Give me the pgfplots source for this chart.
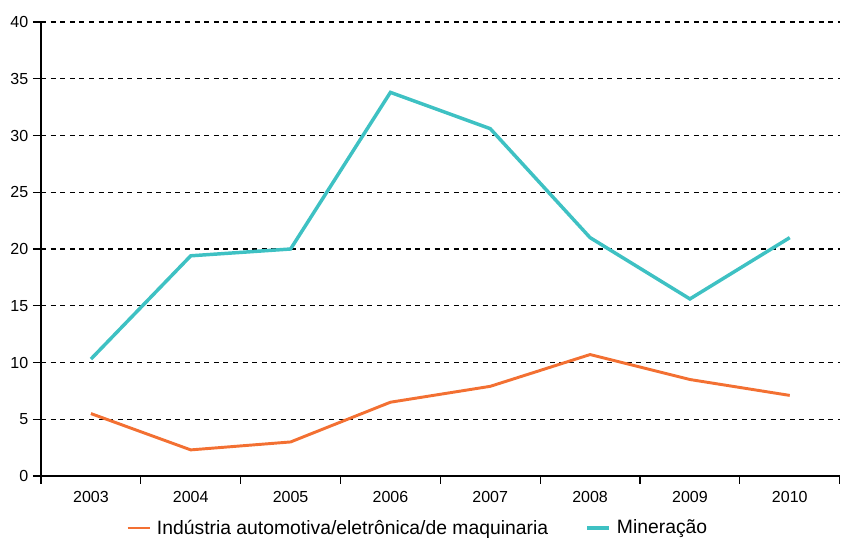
\documentclass[border=0pt]{standalone}
\usepackage{fontspec}
\setmainfont{Liberation Sans}
\usepackage{pgfplots}
\pgfplotsset{compat=1.18}

\definecolor{laranja}{HTML}{F37032}
\definecolor{turquesa}{HTML}{3EC1C3}

\begin{document}
\begin{tikzpicture}
\begin{axis}[
  scale only axis,
  width=599pt, height=340.5pt,
  xmin=-0.5, xmax=7.5,
  ymin=0, ymax=40,
  axis x line*=bottom,
  axis y line*=left,
  axis line style={black, line width=0.9pt},
  xtick={0,...,7},
  xticklabels={2003,2004,2005,2006,2007,2008,2009,2010},
  minor xtick={-0.5,0.5,...,7.5},
  ytick={0,5,...,40},
  tick align=outside,
  major tick length=6pt,
  minor tick length=6pt,
  x tick style={draw=none},
  minor x tick style={draw=black, line width=0.9pt},
  y tick style={black, line width=0.9pt},
  ymajorgrids,
  major grid style={black, line width=0.8pt, dash pattern=on 3.8pt off 3.4pt},
  tick label style={font=\fontsize{12}{14}\selectfont},
  /pgf/number format/assume math mode=true,
  xticklabel style={yshift=-2pt},
  legend style={
    at={(axis description cs:0.472,-0.1145)}, anchor=center,
    draw=none, fill=none,
    font=\fontsize{14.5}{16}\selectfont,
    column sep=0pt,
  },
  legend columns=2,
  legend cell align=left,
  legend image code/.code={\draw[#1] (0pt,0pt) -- (16.5pt,0pt); \path (19pt,0pt);},
]
\addplot[laranja, line width=2.2pt] coordinates {
  (0,5.5) (1,2.3) (2,3.0) (3,6.5) (4,7.9) (5,10.7) (6,8.5) (7,7.1)};
\addlegendentry{Indústria automotiva/eletrônica/de maquinaria\hspace*{26pt}}
\addplot[turquesa, line width=2.6pt] coordinates {
  (0,10.3) (1,19.4) (2,20.0) (3,33.8) (4,30.6) (5,21.0) (6,15.6) (7,21.0)};
\addlegendentry{Mineração}
\coordinate (O) at (rel axis cs:0,0);
\end{axis}
\pgfresetboundingbox
\path (O) ++(-30.75pt,-46.5pt) rectangle ++(632.25pt,403.5pt);
\end{tikzpicture}
\end{document}
